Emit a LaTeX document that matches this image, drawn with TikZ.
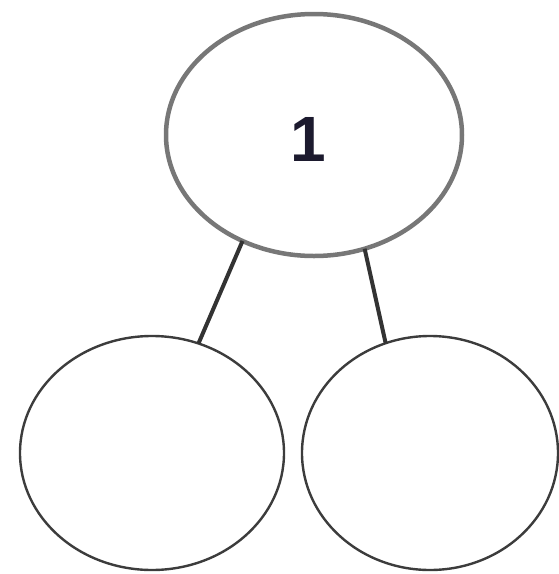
\documentclass[tikz,border=0pt]{standalone}
\usepackage{fontspec}
\setmainfont{Liberation Sans}
\usetikzlibrary{shapes.geometric}
\definecolor{topgray}{HTML}{777777}
\definecolor{botgray}{HTML}{3C3C3C}
\definecolor{lingray}{HTML}{333333}
\definecolor{digit}{HTML}{1C1A2E}
\tikzset{
  bubble/.style={ellipse, draw, fill=white, inner sep=0pt, outer sep=0pt},
  topbubble/.style={bubble, draw=topgray, line width=4.5pt},
  botbubble/.style={bubble, draw=botgray, line width=2.4pt},
  link/.style={draw=lingray, line width=4pt}
}
\begin{document}
\begin{tikzpicture}[x=1pt,y=-1pt]
\useasboundingbox (0,0) rectangle (559,574);
\node[topbubble, minimum width=296pt, minimum height=242pt] (top) at (314,135) {};
\node[botbubble, minimum width=264pt, minimum height=234pt] (left) at (152,453) {};
\node[botbubble, minimum width=256pt, minimum height=234pt] (right) at (430,453) {};
\node[text=digit, font=\fontsize{64}{64}\selectfont\bfseries, inner sep=0pt] (one) at (308,139) {1};
\draw[link] (top.236) -- (left.67);
\draw[link] (top.294) -- (right.112);
\end{tikzpicture}
\end{document}
